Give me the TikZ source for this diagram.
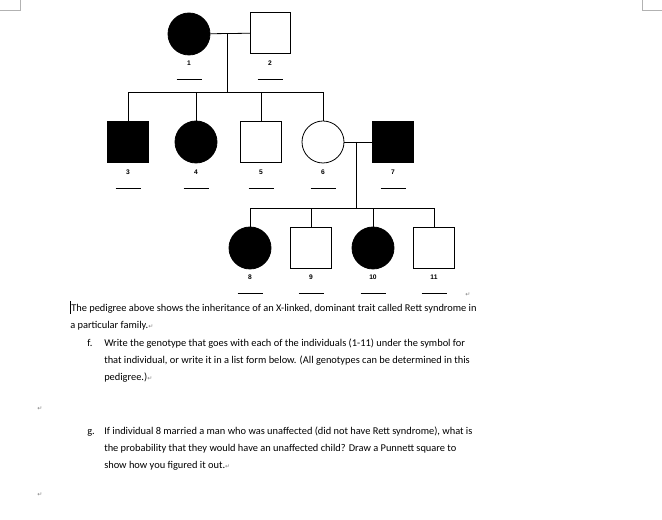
\documentclass[tikz,border=0pt]{standalone}
\usepackage{fontspec}
\setmainfont{Carlito}
\newfontfamily\arialf{Liberation Sans}
\newfontfamily\dejf{DejaVu Sans}
\begin{document}
\begin{tikzpicture}[x=0.75pt,y=-0.75pt,
  ln/.style={line width=0.6pt},
  aff/.style={ln,fill=black},
  sq/.style={ln,draw,minimum size=30.5pt,inner sep=0pt,rectangle},
  ci/.style={ln,draw,circle,minimum size=31.5pt,inner sep=0pt},
  num/.style={font=\arialf\fontsize{5}{6}\selectfont\bfseries},
  ul/.style={line width=0.6pt},
  txt/.style={anchor=base west,inner sep=0pt,font=\fontsize{7.8}{9}\selectfont},
  pm/.style={anchor=base west,inner sep=0pt,font=\dejf\fontsize{4.5}{5}\selectfont,text=gray}]
\useasboundingbox (0,0) rectangle (662,520);
\draw[gray!60] (0,10)--(20,10)--(20,0);
\draw[gray!60] (662,10)--(642,10)--(642,0);
% generation 1
\node[ci,aff] (p1) at (189,34) {};
\node[sq] (p2) at (270.5,33) {};
\coordinate (m1) at (227,34);
\draw[ln] (p1) -- (p2);
% generation 2
\node[sq,aff] (p3) at (128,142) {};
\node[ci,aff] (p4) at (196,142) {};
\node[sq] (p5) at (261,142) {};
\node[ci] (p6) at (323,142) {};
\node[sq,aff] (p7) at (393,142) {};
\coordinate (s1) at (227,92);
\draw[ln] (m1) -- (s1);
\draw[ln] (p3.north) -- (p3.north|-s1) -- (p6.north|-s1) -- (p6.north);
\draw[ln] (p4.north) -- (p4.north|-s1);
\draw[ln] (p5.north) -- (p5.north|-s1);
\draw[ln] (p6) -- (p7);
% generation 3
\node[ci,aff] (p8) at (250,248) {};
\node[sq] (p9) at (311,248) {};
\node[ci,aff] (p10) at (373,248) {};
\node[sq] (p11) at (434,248) {};
\coordinate (m2) at (356,142);
\coordinate (s2) at (356,208);
\draw[ln] (m2) -- (s2);
\draw[ln] (p8.north) -- (p8.north|-s2) -- (p11.north|-s2) -- (p11.north);
\draw[ln] (p9.north) -- (p9.north|-s2);
\draw[ln] (p10.north) -- (p10.north|-s2);
% labels and blanks
\foreach \n/\x/\y in {1/189/63,2/270/63,3/128/172,4/196/172,5/261/172,6/323/172,7/393/172,8/250/277,9/311/277,10/373/277,11/434/277}{
  \node[num] (l\n) at (\x,\y) {\n};
  \draw[ul] (\x-12.5,\y+16) -- (\x+12.5,\y+16);
}
% text
\draw[line width=0.8pt] (70.5,301) -- (70.5,314);
\node[pm] (r0) at (465,297) {↵};
\node[txt] (t1) at (71,312) {The pedigree above shows the inheritance of an X-linked, dominant trait called Rett syndrome in};
\node[txt] (t2) at (70,329) {a particular family.{\dejf\fontsize{4.5}{5}\selectfont\color{gray}↵}};
\node[txt] (t3) at (87,347) {f.};
\node[txt] (t4) at (104,347) {Write the genotype that goes with each of the individuals (1-11) under the symbol for};
\node[txt] (t5) at (104,364) {that individual, or write it in a list form below. (All genotypes can be determined in this};
\node[txt] (t6) at (104,381) {pedigree.){\dejf\fontsize{4.5}{5}\selectfont\color{gray}↵}};
\node[pm] (r1) at (37,411) {↵};
\node[txt] (t7) at (87,435) {g.};
\node[txt] (t8) at (104,435) {If individual 8 married a man who was unaffected (did not have Rett syndrome), what is};
\node[txt] (t9) at (104,452) {the probability that they would have an unaffected child? Draw a Punnett square to};
\node[txt] (t10) at (104,469) {show how you figured it out.{\dejf\fontsize{4.5}{5}\selectfont\color{gray}↵}};
\node[pm] (r2) at (37,497) {↵};
\end{tikzpicture}
\end{document}
